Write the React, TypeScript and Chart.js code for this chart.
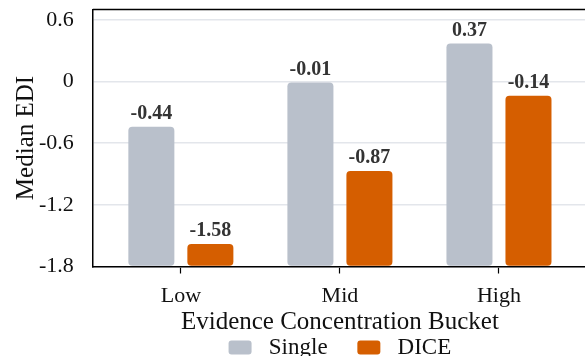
import React, { useEffect, useRef } from "react";
import { Chart, registerables } from "chart.js";

Chart.register(...registerables);

const categories = ["Low", "Mid", "High"];
const seriesNames = ["Single", "DICE"];
const singleValues = [-0.44, -0.01, 0.37];
const diceValues = [-1.58, -0.87, -0.14];
const yTicks = [-1.8, -1.2, -0.6, 0, 0.6];
const yMin = -1.8;
const yMax = 0.7;
const xMin = -0.5535;
const xMax = 2.5535;
const xTitle = "Evidence Concentration Bucket";
const yTitle = "Median EDI";

const SERIF = '"Liberation Serif", "Times New Roman", serif';
const COLORS = ["#b9c0cb", "#d55e00"];

const framePlugin = {
  id: "framePlugin",
  afterDatasetsDraw(chart: any) {
    const { ctx, chartArea } = chart;
    ctx.save();
    ctx.strokeStyle = "#000";
    ctx.lineWidth = 1.5;
    ctx.beginPath();
    ctx.moveTo(chartArea.left, chartArea.top);
    ctx.lineTo(chartArea.right, chartArea.top);
    ctx.lineTo(chartArea.right, chartArea.bottom);
    ctx.stroke();
    ctx.restore();

    ctx.save();
    ctx.font = `bold 20px ${SERIF}`;
    ctx.fillStyle = "#333";
    ctx.textAlign = "center";
    ctx.textBaseline = "bottom";
    chart.data.datasets.forEach((ds: any, di: number) => {
      const meta = chart.getDatasetMeta(di);
      meta.data.forEach((bar: any, i: number) => {
        const v = ds.data[i].y as number;
        ctx.fillText(v.toFixed(2), bar.x, bar.y - 3);
      });
    });
    ctx.restore();
  },
};

const toPoints = (vals: number[]) => vals.map((y, i) => ({ x: i, y }));

export default function App() {
  const ref = useRef<HTMLCanvasElement | null>(null);

  useEffect(() => {
    document.body.style.margin = "0";
    const canvas = ref.current!;
    const barCommon = {
      base: yMin,
      borderRadius: 4,
      borderSkipped: false,
      categoryPercentage: 0.742,
      barPercentage: 0.78,
    };
    const chart = new Chart(canvas, {
      type: "bar",
      data: {
        datasets: [
          { label: seriesNames[0], data: toPoints(singleValues), backgroundColor: COLORS[0], ...barCommon } as any,
          { label: seriesNames[1], data: toPoints(diceValues), backgroundColor: COLORS[1], ...barCommon } as any,
        ],
      },
      options: {
        responsive: false,
        animation: false,
        layout: { padding: { left: 14, right: 3, top: 9.5, bottom: 0 } },
        plugins: {
          tooltip: { enabled: false },
          legend: {
            position: "bottom",
            fullSize: false,
            labels: {
              font: { family: SERIF, size: 23 },
              color: "#111",
              boxWidth: 23,
              boxHeight: 14,
              useBorderRadius: true,
              borderRadius: 3,
              padding: 1,
              generateLabels: (chart: any) => {
                const items = Chart.defaults.plugins.legend.labels.generateLabels(chart);
                items.forEach((it: any, i: number) => {
                  it.text = " " + it.text + (i < items.length - 1 ? "     " : "");
                  it.lineWidth = 0;
                  it.strokeStyle = "rgba(0,0,0,0)";
                });
                return items;
              },
            },
          },
        },
        scales: {
          x: {
            type: "linear",
            offset: false,
            min: xMin,
            max: xMax,
            afterBuildTicks: (scale: any) => {
              scale.ticks = categories.map((_, i) => ({ value: i }));
            },
            grid: {
              display: true,
              offset: false,
              drawOnChartArea: false,
              drawTicks: true,
              tickLength: 7,
              tickColor: "#000",
              tickWidth: 1.2,
            },
            border: { display: true, color: "#000", width: 1.5 },
            ticks: {
              font: { family: SERIF, size: 22, lineHeight: 1 },
              color: "#111",
              padding: 12,
              maxRotation: 0,
              autoSkip: false,
              callback: (v: any) => categories[Math.round(Number(v))] ?? "",
            },
            title: {
              display: true,
              text: xTitle,
              font: { family: SERIF, size: 25, lineHeight: 1 },
              color: "#111",
              padding: { top: -9.5, bottom: 0 },
            },
          },
          y: {
            type: "linear",
            min: yMin,
            max: yMax,
            afterBuildTicks: (scale: any) => {
              scale.ticks = yTicks.map((v) => ({ value: v }));
            },
            grid: {
              color: "#e3e6eb",
              lineWidth: 1.5,
              drawTicks: true,
              tickLength: 19,
              tickColor: "rgba(0,0,0,0)",
            },
            border: { display: true, color: "#000", width: 1.5 },
            ticks: {
              font: { family: SERIF, size: 22, lineHeight: 0.8 },
              color: "#111",
              padding: 0,
              callback: (v: any) => String(Math.round(Number(v) * 10) / 10),
            },
            title: {
              display: true,
              text: yTitle,
              font: { family: SERIF, size: 25, lineHeight: 1 },
              color: "#111",
              padding: { top: 0, bottom: 0 },
            },
          },
        },
      },
      plugins: [framePlugin],
    });
    return () => chart.destroy();
  }, []);

  return (
    <div style={{ width: 585, height: 356, overflow: "hidden", position: "relative" }}>
      <canvas ref={ref} width={590} height={369} style={{ position: "absolute", left: 0, top: 0 }} />
    </div>
  );
}
